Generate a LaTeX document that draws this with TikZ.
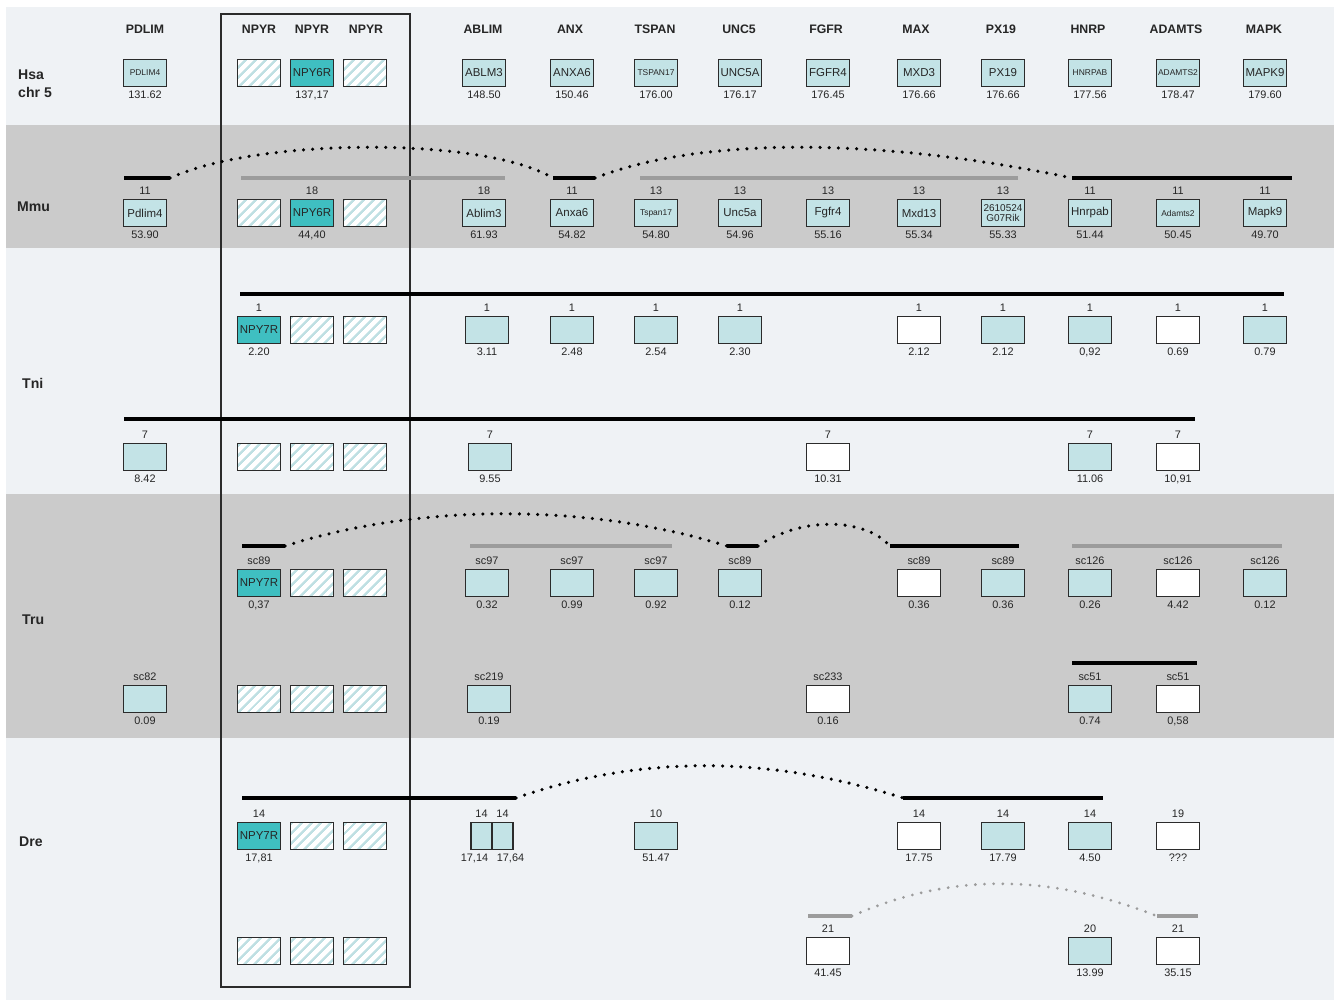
\documentclass[tikz,border=0pt]{standalone}
\usepackage{fontspec}
\setmainfont{Liberation Sans}
\usetikzlibrary{patterns.meta}
\definecolor{bandlt}{HTML}{EFF2F5}
\definecolor{banddk}{HTML}{CBCBCB}
\definecolor{genec}{HTML}{C3E3E6}
\definecolor{npyc}{HTML}{3FBFC1}
\definecolor{hatchc}{HTML}{BFE0E3}
\definecolor{edgec}{HTML}{2B2B2B}
\definecolor{txtc}{HTML}{262626}
\definecolor{grayln}{HTML}{9C9C9C}
\begin{document}
\begin{tikzpicture}[x=0.03cm, y=-0.03cm,
  gene/.style={draw=edgec, line width=1.4pt, minimum width=1.29cm, minimum height=0.81cm, inner sep=0pt, text=txtc, font=\fontsize{9.8}{10}\selectfont},
  gbox/.style={gene, fill=genec},
  tbox/.style={gene, fill=npyc},
  wbox/.style={gene, fill=white},
  hbox/.style={gene, preaction={fill=white}, pattern={Lines[angle=45, distance=6.5pt, line width=2.4pt]}, pattern color=hatchc},
  half/.style={minimum width=0.63cm},
  sm/.style={font=\fontsize{7.2}{8}\selectfont},
  two/.style={font=\fontsize{8.5}{9}\selectfont, align=center},
  hdr/.style={font=\bfseries\fontsize{10.5}{12}\selectfont, text=txtc},
  spc/.style={font=\bfseries\fontsize{12}{15}\selectfont, text=txtc, anchor=west, align=left, inner sep=0pt},
  chrom/.style={line width=3.4pt, black},
  grayline/.style={line width=2.6pt, grayln},
  link/.style={line width=3pt, line cap=round, dash pattern=on 0pt off 7.8pt, black},
  glink/.style={link, draw=grayln, line width=2.6pt},
  frame/.style={draw=edgec, line width=1.3pt},
  every label/.style={font=\fontsize{9.3}{10}\selectfont, text=txtc, inner sep=1.5pt},
  label distance=1.5pt]
\useasboundingbox (0,0) rectangle (1334,1000);
\fill[white] (0,0) rectangle (1334,1000);
\fill[bandlt] (6,7) rectangle (1334,125);
\fill[banddk] (6,125) rectangle (1334,248);
\fill[bandlt] (6,248) rectangle (1334,494);
\fill[banddk] (6,494) rectangle (1334,738);
\fill[bandlt] (6,738) rectangle (1334,1000);
\draw[frame] (221,14) rectangle (410,987);
\node[hdr] (hPDLIM) at (145,29) {PDLIM};
\node[hdr] (hNPYRa) at (259,29) {NPYR};
\node[hdr] (hNPYRb) at (312,29) {NPYR};
\node[hdr] (hNPYRc) at (366,29) {NPYR};
\node[hdr] (hABLIM) at (483,29) {ABLIM};
\node[hdr] (hANX) at (570,29) {ANX};
\node[hdr] (hTSPAN) at (655,29) {TSPAN};
\node[hdr] (hUNC5) at (739,29) {UNC5};
\node[hdr] (hFGFR) at (826,29) {FGFR};
\node[hdr] (hMAX) at (916,29) {MAX};
\node[hdr] (hPX19) at (1001,29) {PX19};
\node[hdr] (hHNRP) at (1088,29) {HNRP};
\node[hdr] (hADAMTS) at (1176,29) {ADAMTS};
\node[hdr] (hMAPK) at (1264,29) {MAPK};
\node[spc] (lHsa) at (18,84) {Hsa\\chr 5};
\node[spc] (lMmu) at (17,207) {Mmu};
\node[spc] (lTni) at (22,383) {Tni};
\node[spc] (lTru) at (22,620) {Tru};
\node[spc] (lDre) at (19,842) {Dre};
\coordinate (m0) at (124,178);
\coordinate (m1) at (170,178);
\coordinate (m2) at (553,178);
\coordinate (m3) at (595,178);
\coordinate (m4) at (1072,178);
\coordinate (m5) at (1292,178);
\coordinate (m6) at (241,178);
\coordinate (m7) at (505,178);
\coordinate (m8) at (640,178);
\coordinate (m9) at (1018,178);
\draw[grayline] (m6) -- (m7);
\draw[grayline] (m8) -- (m9);
\draw[chrom] (m0) -- (m1);
\draw[link] (m1) .. controls (260,137) and (485,137) .. (m2);
\draw[chrom] (m2) -- (m3);
\draw[link] (m3) .. controls (700,137) and (877,137) .. (m4);
\draw[chrom] (m4) -- (m5);
\coordinate (t0) at (240,294);
\coordinate (t1) at (1284,294);
\coordinate (t2) at (124,419);
\coordinate (t3) at (1195,419);
\draw[chrom] (t0) -- (t1);
\draw[chrom] (t2) -- (t3);
\coordinate (r0) at (242,546);
\coordinate (r1) at (285,546);
\coordinate (r2) at (727,546);
\coordinate (r3) at (758,546);
\coordinate (r4) at (890,546);
\coordinate (r5) at (1019,546);
\coordinate (r6) at (470,546);
\coordinate (r7) at (672,546);
\coordinate (r8) at (1072,546);
\coordinate (r9) at (1282,546);
\coordinate (r10) at (1072,663);
\coordinate (r11) at (1197,663);
\draw[grayline] (r6) -- (r7);
\draw[grayline] (r8) -- (r9);
\draw[chrom] (r0) -- (r1);
\draw[link] (r1) .. controls (420,503) and (589,503) .. (r2);
\draw[chrom] (r2) -- (r3);
\draw[link] (r3) .. controls (800,517) and (864,517) .. (r4);
\draw[chrom] (r4) -- (r5);
\draw[chrom] (r10) -- (r11);
\coordinate (d0) at (242,798);
\coordinate (d1) at (516,798);
\coordinate (d2) at (903,798);
\coordinate (d3) at (1103,798);
\coordinate (d4) at (808,916);
\coordinate (d5) at (852,916);
\coordinate (d6) at (1157,916);
\coordinate (d7) at (1198,916);
\draw[chrom] (d0) -- (d1);
\draw[link] (d1) .. controls (640,755) and (767,755) .. (d2);
\draw[chrom] (d2) -- (d3);
\draw[grayline] (d4) -- (d5);
\draw[glink] (d5) .. controls (950,873) and (1047,873) .. (d6);
\draw[grayline] (d6) -- (d7);
\node[gbox, sm, label={below:131.62}] (hsa0) at (145,73) {PDLIM4};
\node[hbox] (hsa1) at (259,73) {};
\node[tbox, label={below:{137,17}}] (hsa2) at (312,73) {NPY6R};
\node[hbox] (hsa3) at (365,73) {};
\node[gbox, label={below:148.50}] (hsa4) at (484,73) {ABLM3};
\node[gbox, label={below:150.46}] (hsa5) at (572,73) {ANXA6};
\node[gbox, sm, label={below:176.00}] (hsa6) at (656,73) {TSPAN17};
\node[gbox, label={below:176.17}] (hsa7) at (740,73) {UNC5A};
\node[gbox, label={below:176.45}] (hsa8) at (828,73) {FGFR4};
\node[gbox, label={below:176.66}] (hsa9) at (919,73) {MXD3};
\node[gbox, label={below:176.66}] (hsa10) at (1003,73) {PX19};
\node[gbox, sm, label={below:177.56}] (hsa11) at (1090,73) {HNRPAB};
\node[gbox, sm, label={below:178.47}] (hsa12) at (1178,73) {ADAMTS2};
\node[gbox, label={below:179.60}] (hsa13) at (1265,73) {MAPK9};
\node[gbox, label={above:11}, label={below:53.90}] (mmu0) at (145,213) {Pdlim4};
\node[hbox] (mmu1) at (259,213) {};
\node[tbox, label={above:18}, label={below:{44,40}}] (mmu2) at (312,213) {NPY6R};
\node[hbox] (mmu3) at (365,213) {};
\node[gbox, label={above:18}, label={below:61.93}] (mmu4) at (484,213) {Ablim3};
\node[gbox, label={above:11}, label={below:54.82}] (mmu5) at (572,213) {Anxa6};
\node[gbox, sm, label={above:13}, label={below:54.80}] (mmu6) at (656,213) {Tspan17};
\node[gbox, label={above:13}, label={below:54.96}] (mmu7) at (740,213) {Unc5a};
\node[gbox, label={above:13}, label={below:55.16}] (mmu8) at (828,213) {Fgfr4};
\node[gbox, label={above:13}, label={below:55.34}] (mmu9) at (919,213) {Mxd13};
\node[gbox, two, label={above:13}, label={below:55.33}] (mmu10) at (1003,213) {2610524\\G07Rik};
\node[gbox, label={above:11}, label={below:51.44}] (mmu11) at (1090,213) {Hnrpab};
\node[gbox, sm, label={above:11}, label={below:50.45}] (mmu12) at (1178,213) {Adamts2};
\node[gbox, label={above:11}, label={below:49.70}] (mmu13) at (1265,213) {Mapk9};
\node[tbox, label={above:1}, label={below:2.20}] (tni1) at (259,330) {NPY7R};
\node[hbox] (tni2) at (312,330) {};
\node[hbox] (tni3) at (365,330) {};
\node[gbox, label={above:1}, label={below:3.11}] (tni4) at (487,330) {};
\node[gbox, label={above:1}, label={below:2.48}] (tni5) at (572,330) {};
\node[gbox, label={above:1}, label={below:2.54}] (tni6) at (656,330) {};
\node[gbox, label={above:1}, label={below:2.30}] (tni7) at (740,330) {};
\node[wbox, label={above:1}, label={below:2.12}] (tni9) at (919,330) {};
\node[gbox, label={above:1}, label={below:2.12}] (tni10) at (1003,330) {};
\node[gbox, label={above:1}, label={below:{0,92}}] (tni11) at (1090,330) {};
\node[wbox, label={above:1}, label={below:0.69}] (tni12) at (1178,330) {};
\node[gbox, label={above:1}, label={below:0.79}] (tni13) at (1265,330) {};
\node[gbox, label={above:7}, label={below:8.42}] (tnb0) at (145,457) {};
\node[hbox] (tnb1) at (259,457) {};
\node[hbox] (tnb2) at (312,457) {};
\node[hbox] (tnb3) at (365,457) {};
\node[gbox, label={above:7}, label={below:9.55}] (tnb4) at (490,457) {};
\node[wbox, label={above:7}, label={below:10.31}] (tnb8) at (828,457) {};
\node[gbox, label={above:7}, label={below:11.06}] (tnb11) at (1090,457) {};
\node[wbox, label={above:7}, label={below:{10,91}}] (tnb12) at (1178,457) {};
\node[tbox, label={above:sc89}, label={below:{0,37}}] (tru1) at (259,583) {NPY7R};
\node[hbox] (tru2) at (312,583) {};
\node[hbox] (tru3) at (365,583) {};
\node[gbox, label={above:sc97}, label={below:0.32}] (tru4) at (487,583) {};
\node[gbox, label={above:sc97}, label={below:0.99}] (tru5) at (572,583) {};
\node[gbox, label={above:sc97}, label={below:0.92}] (tru6) at (656,583) {};
\node[gbox, label={above:sc89}, label={below:0.12}] (tru7) at (740,583) {};
\node[wbox, label={above:sc89}, label={below:0.36}] (tru9) at (919,583) {};
\node[gbox, label={above:sc89}, label={below:0.36}] (tru10) at (1003,583) {};
\node[gbox, label={above:sc126}, label={below:0.26}] (tru11) at (1090,583) {};
\node[wbox, label={above:sc126}, label={below:4.42}] (tru12) at (1178,583) {};
\node[gbox, label={above:sc126}, label={below:0.12}] (tru13) at (1265,583) {};
\node[gbox, label={above:sc82}, label={below:0.09}] (trb0) at (145,699) {};
\node[hbox] (trb1) at (259,699) {};
\node[hbox] (trb2) at (312,699) {};
\node[hbox] (trb3) at (365,699) {};
\node[gbox, label={above:sc219}, label={below:0.19}] (trb4) at (489,699) {};
\node[wbox, label={above:sc233}, label={below:0.16}] (trb8) at (828,699) {};
\node[gbox, label={above:sc51}, label={below:0.74}] (trb11) at (1090,699) {};
\node[wbox, label={above:sc51}, label={below:{0,58}}] (trb12) at (1178,699) {};
\node[tbox, label={above:14}, label={below:{17,81}}] (dre1) at (259,836) {NPY7R};
\node[hbox] (dre2) at (312,836) {};
\node[hbox] (dre3) at (365,836) {};
\node[gbox, half, label={above:14}, label={[xshift=-0.21cm]below:{17,14}}] (dre4) at (481.5,836) {};
\node[gbox, half, label={above:14}, label={[xshift=0.24cm]below:{17,64}}] (dre5) at (502.5,836) {};
\node[gbox, label={above:10}, label={below:51.47}] (dre6) at (656,836) {};
\node[wbox, label={above:14}, label={below:17.75}] (dre9) at (919,836) {};
\node[gbox, label={above:14}, label={below:17.79}] (dre10) at (1003,836) {};
\node[gbox, label={above:14}, label={below:4.50}] (dre11) at (1090,836) {};
\node[wbox, label={above:19}, label={below:???}] (dre12) at (1178,836) {};
\node[hbox] (drb1) at (259,951) {};
\node[hbox] (drb2) at (312,951) {};
\node[hbox] (drb3) at (365,951) {};
\node[wbox, label={above:21}, label={below:41.45}] (drb8) at (828,951) {};
\node[gbox, label={above:20}, label={below:13.99}] (drb11) at (1090,951) {};
\node[wbox, label={above:21}, label={below:35.15}] (drb12) at (1178,951) {};
\end{tikzpicture}
\end{document}
